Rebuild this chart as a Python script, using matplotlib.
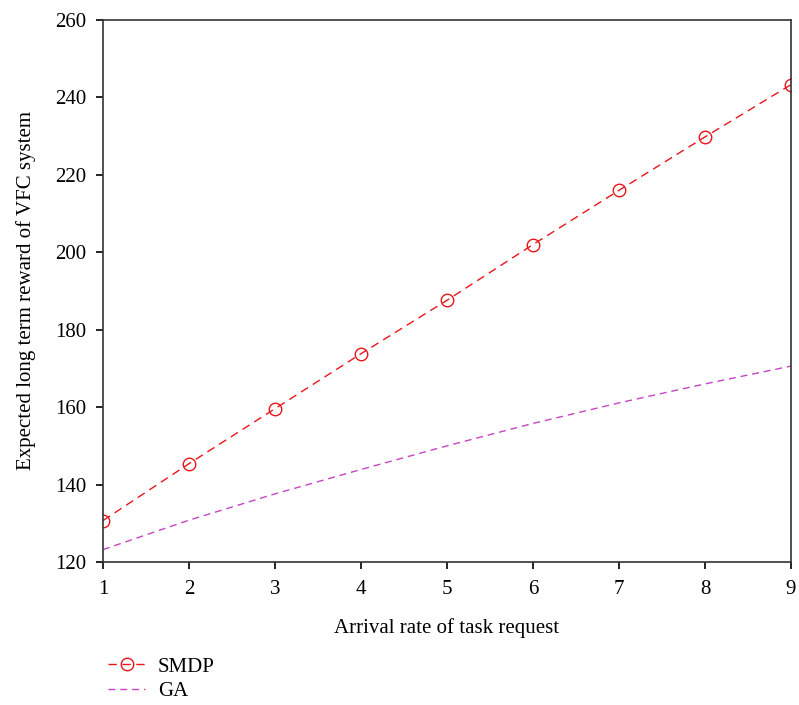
import numpy as np
import matplotlib
matplotlib.use("Agg")
import matplotlib.pyplot as plt

# data
arrival = [1, 2, 3, 4, 5, 6, 7, 8, 9]
smdp = [130.7, 145.4, 159.6, 173.8, 187.6, 202.0, 216.0, 229.8, 243.3]
ga = [123.2, 130.8, 137.6, 143.9, 150.0, 155.8, 161.1, 166.0, 170.6]
yticks = [120, 140, 160, 180, 200, 220, 240, 260]

plt.rcParams['font.family'] = ['Liberation Serif', 'DejaVu Serif']
plt.rcParams['font.size'] = 15

fig = plt.figure(figsize=(7.99, 7.05), dpi=100)
ax = fig.add_axes([103 / 799, 1 - 562 / 705, 688 / 799, 542 / 705])

ax.plot(arrival, smdp, color='#e8151b', linestyle='--', linewidth=1.0,
        dashes=(6, 4), marker='o', markersize=9, markerfacecolor='none',
        markeredgecolor='#e8151b', markeredgewidth=1.0, label='SMDP')
ax.plot(arrival, ga, color='#c545c2', linestyle='--', linewidth=1.0,
        dashes=(5, 3.5), label='GA')

ax.set_xlim(1, 9)
ax.set_ylim(120, 260)
ax.set_xticks(arrival)
ax.set_yticks(yticks)
ax.tick_params(direction='out', length=5, width=1.2, labelsize=15)
ax.tick_params(axis='x', pad=8)
ax.tick_params(axis='y', pad=7)
for s in ax.spines.values():
    s.set_linewidth(1.2)
    s.set_color('#333333')

ax.set_xlabel('Arrival rate of task request', fontsize=15, labelpad=14)
ax.set_ylabel('Expected long term reward of VFC system', fontsize=15, labelpad=14)

leg = ax.legend(loc='upper left', bbox_to_anchor=(-0.005, -0.16), frameon=False,
                fontsize=15, handlelength=1.8, handletextpad=0.6,
                labelspacing=0.25, borderaxespad=0)

plt.savefig('out.png', dpi=100)
